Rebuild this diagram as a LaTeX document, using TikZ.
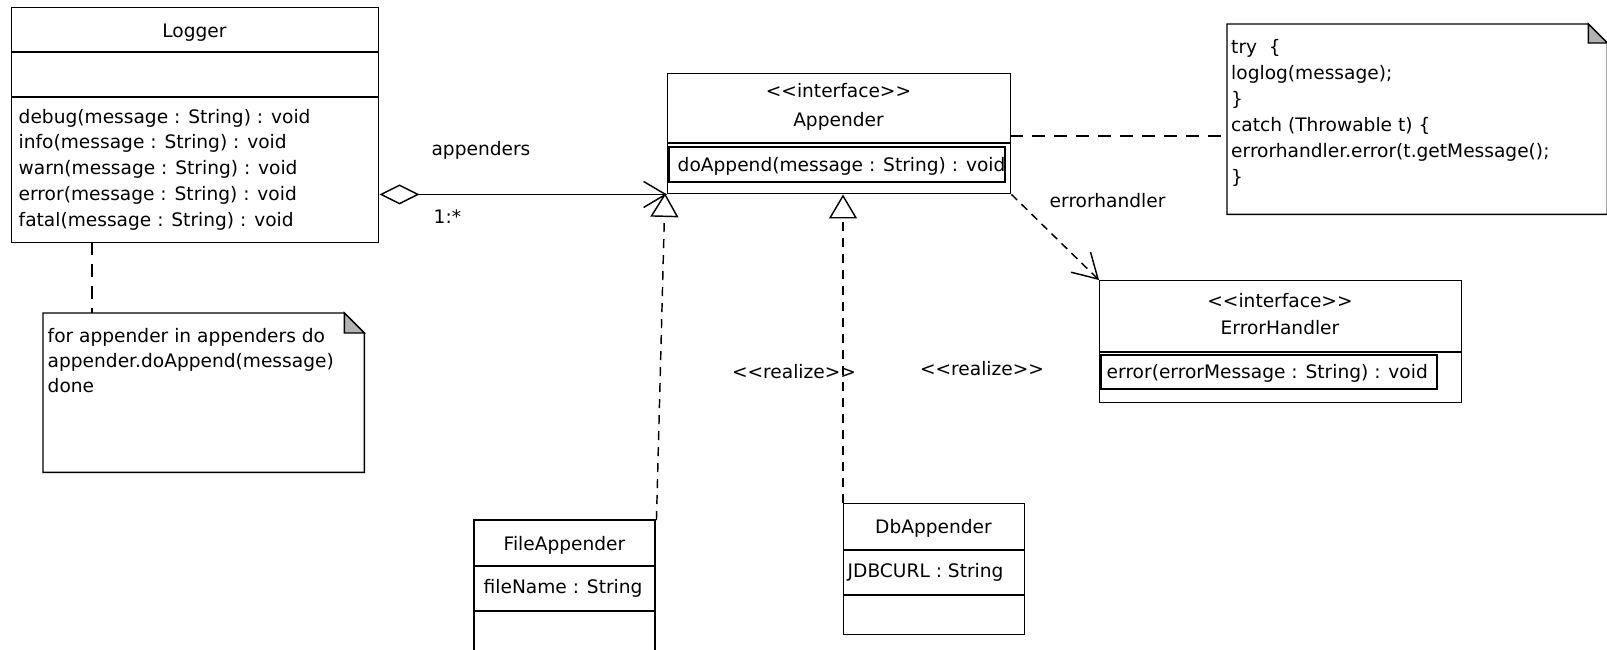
\documentclass[tikz,border=0pt]{standalone}
\usepackage{fontspec}
\setmainfont{DejaVu Sans}
\usetikzlibrary{arrows.meta}
\begin{document}
\begin{tikzpicture}[x=1pt,y=-1pt,line width=1.45pt,
  font=\fontsize{18.6}{22}\selectfont,
  frame/.style={draw,inner sep=0pt,anchor=north west},
  ghost/.style={inner sep=0pt,anchor=north west},
  title/.style={inner sep=0pt,anchor=base},
  entry/.style={inner sep=0pt,anchor=base west},
  picked/.style={draw,line width=2.8pt},
  fold/.style={fill=black!30,draw},
  notelink/.style={dash pattern=on 13pt off 9pt},
  realizes/.style={dash pattern=on 9pt off 7pt,
    -{Triangle[length=24pt,width=28pt,fill=white]}},
  uses/.style={dash pattern=on 8pt off 6pt,
    -{Straight Barb[length=24pt,width=28pt]}},
  aggregates/.style={{Diamond[open,length=40pt,width=20pt]}-{Straight Barb[length=22pt,width=26pt]}}]
\useasboundingbox (0,0) rectangle (1607,649);

% ---- Logger ----
\node[frame,minimum width=367pt,minimum height=235pt] (logger) at (11,7) {};
\draw (11,52) -- (378,52);
\draw (11,97) -- (378,97);
\node[title] (loggerName) at (194.5,37) {Logger};
\node[entry] (mDebug) at (18,123) {debug(message : String) : void};
\node[entry] (mInfo)  at (18,148.9) {info(message : String) : void};
\node[entry] (mWarn)  at (18,174.8) {warn(message : String) : void};
\node[entry] (mError) at (18,200.7) {error(message : String) : void};
\node[entry] (mFatal) at (18,226.6) {fatal(message : String) : void};

% ---- Appender ----
\node[frame,minimum width=343pt,minimum height=120pt] (appender) at (667,73) {};
\draw (667,143) -- (1010,143);
\draw[picked] (669,147) rectangle (1005,182);
\node[title] (appStereo) at (838.5,97) {<{}<interface>{}>};
\node[title] (appName) at (838.5,126) {Appender};
\node[entry] (appOp) at (677,171) {doAppend(message : String) : void};

% ---- ErrorHandler ----
\node[frame,minimum width=362pt,minimum height=122pt] (handler) at (1099,280) {};
\draw (1099,352) -- (1461,352);
\draw[picked] (1101,355) rectangle (1437,389);
\node[title] (ehStereo) at (1280,307) {<{}<interface>{}>};
\node[title] (ehName) at (1280,334) {ErrorHandler};
\node[entry] (ehOp) at (1106,378) {error(errorMessage : String) : void};

% ---- FileAppender (runs off the bottom edge) ----
\node[ghost,minimum width=181pt,minimum height=129pt] (fileapp) at (474,520) {};
\draw (474,650) -- (474,520) -- (655,520) -- (655,650);
\draw (474,566) -- (655,566);
\draw (474,611) -- (655,611);
\node[title] (faName) at (564.5,550) {FileAppender};
\node[entry] (faAttr) at (483,593) {fileName : String};

% ---- DbAppender ----
\node[frame,minimum width=181pt,minimum height=131pt] (dbapp) at (843,503) {};
\draw (843,550) -- (1024,550);
\draw (843,595) -- (1024,595);
\node[title] (dbName) at (933.5,533) {DbAppender};
\node[entry] (dbAttr) at (847,577) {JDBCURL : String};

% ---- note on Logger ----
\node[ghost,minimum width=320pt,minimum height=158pt] (loopnote) at (43,313) {};
\draw (loopnote.north west) -- ([xshift=-20pt]loopnote.north east)
  -- ([yshift=-20pt]loopnote.north east) -- (loopnote.south east)
  -- (loopnote.south west) -- cycle;
\draw[fold] ([xshift=-20pt]loopnote.north east) -- ([xshift=-20pt,yshift=-20pt]loopnote.north east)
  -- ([yshift=-20pt]loopnote.north east) -- cycle;
\node[entry] (ln1) at (47,342) {for appender in appenders do};
\node[entry] (ln2) at (47,367) {appender.doAppend(message)};
\node[entry] (ln3) at (47,392) {done};

% ---- note on Appender ----
\node[ghost,minimum width=379pt,minimum height=189pt] (trynote) at (1227,24) {};
\draw (trynote.north west) -- ([xshift=-19pt]trynote.north east)
  -- ([yshift=-19pt]trynote.north east) -- (trynote.south east)
  -- (trynote.south west) -- cycle;
\draw[fold] ([xshift=-19pt]trynote.north east) -- ([xshift=-19pt,yshift=-19pt]trynote.north east)
  -- ([yshift=-19pt]trynote.north east) -- cycle;
\node[entry] (tn1) at (1230.5,53) {try~~\{};
\node[entry] (tn2) at (1230.5,79) {loglog(message);};
\node[entry] (tn3) at (1230.5,105) {\}};
\node[entry] (tn4) at (1230.5,131) {catch (Throwable t) \{};
\node[entry] (tn5) at (1230.5,157) {errorhandler.error(t.getMessage();};
\node[entry] (tn6) at (1230.5,183) {\}};

% ---- connectors ----
\coordinate (loggerFoot) at (92,242);
\draw[notelink] (loggerFoot) -- (loggerFoot |- loopnote.north);

\coordinate (appSide) at (1010,136);
\draw[notelink] (appSide) -- (appSide -| trynote.west);

\draw[aggregates] (logger.east |- appender.south west) -- (appender.south west);
\node[title] (roleLbl) at (481,155) {appenders};
\node[entry] (multLbl) at (433,223) {1:*};

\coordinate (fileTip) at (665,193);
\draw[realizes] (fileapp.north east) -- (fileTip);
\draw[realizes] (dbapp.north west) -- (dbapp.north west |- appender.south);
\node[title] (real1) at (794,378) {<{}<realize>{}>};
\node[title] (real2) at (982,375) {<{}<realize>{}>};

\draw[uses] (appender.south east) -- (handler.north west);
\node[entry] (ehRole) at (1049,207) {errorhandler};
\end{tikzpicture}
\end{document}
